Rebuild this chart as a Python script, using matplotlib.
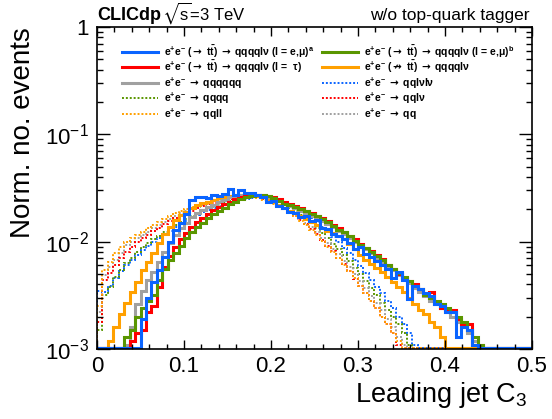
import numpy as np
import matplotlib
matplotlib.use('Agg')
import matplotlib.pyplot as plt
from matplotlib.lines import Line2D
from matplotlib.ticker import MultipleLocator, LogLocator, NullFormatter, FuncFormatter

plt.rcParams['font.family'] = ['Liberation Sans', 'DejaVu Sans']
plt.rcParams['mathtext.fontset'] = 'custom'
plt.rcParams['mathtext.rm'] = 'Liberation Sans'
plt.rcParams['mathtext.it'] = 'Liberation Sans:italic'
plt.rcParams['mathtext.bf'] = 'Liberation Sans:bold'
plt.rcParams['mathtext.sf'] = 'DejaVu Sans:bold'
plt.rcParams['mathtext.default'] = 'bf'
plt.rcParams['mathtext.fallback'] = 'stixsans'

# 80 bins of leading jet C3 between 0 and 0.5
n_bins = 80
c3_min, c3_max = 0.0, 0.5

# signal-like samples (solid lines)
tt_qqqqlv_emu_a = ([0.0] * 8 +
    [0.0019, 0.0030, 0.0042, 0.0055, 0.0072, 0.0100, 0.0129, 0.0148, 0.0180, 0.0245,
     0.0260, 0.0260, 0.0255, 0.0270, 0.0265, 0.0280, 0.0310, 0.0270, 0.0300, 0.0285,
     0.0285, 0.0270, 0.0260, 0.0235, 0.0240, 0.0215, 0.0205, 0.0190, 0.0185, 0.0170,
     0.0175, 0.0155, 0.0160, 0.0135, 0.0132, 0.0118, 0.0112, 0.0105, 0.0098, 0.0085,
     0.0089, 0.0076, 0.0072, 0.0066, 0.0061, 0.0056, 0.0046, 0.0052, 0.0044, 0.0029,
     0.0039, 0.0036, 0.0033, 0.0031, 0.0026, 0.0025, 0.0022, 0.0022, 0.0013, 0.0016,
     0.0015, 0.0011] + [0.0] * 10)

tt_qqqqlv_emu_b = ([0.0] * 5 +
    [0.0013, 0.0015, 0.0020, 0.0024, 0.0028, 0.0032, 0.0044, 0.0056, 0.0068, 0.0078,
     0.0092, 0.0108, 0.0122, 0.0136, 0.0150, 0.0165, 0.0180, 0.0194, 0.0208, 0.0222,
     0.0236, 0.0248, 0.0258, 0.0266, 0.0270, 0.0270, 0.0265, 0.0255, 0.0240, 0.0225,
     0.0218, 0.0210, 0.0203, 0.0192, 0.0182, 0.0173, 0.0162, 0.0152, 0.0140, 0.0129,
     0.0122, 0.0113, 0.0102, 0.0093, 0.0088, 0.0080, 0.0073, 0.0067, 0.0061, 0.0056,
     0.0051, 0.0047, 0.0043, 0.0039, 0.0036, 0.0032, 0.0030, 0.0028, 0.0026, 0.0024,
     0.0022, 0.0020, 0.0018, 0.0015, 0.0013, 0.0011] + [0.0] * 9)

tt_qqqqlv_tau = ([0.0] * 6 +
    [0.0012, 0.0014, 0.0015, 0.0022, 0.0025, 0.0038, 0.0058, 0.0073, 0.0089, 0.0105,
     0.0121, 0.0137, 0.0152, 0.0167, 0.0182, 0.0196, 0.0210, 0.0224, 0.0236, 0.0248,
     0.0258, 0.0265, 0.0270, 0.0272, 0.0270, 0.0266, 0.0260, 0.0248, 0.0235, 0.0225,
     0.0215, 0.0205, 0.0195, 0.0185, 0.0175, 0.0165, 0.0155, 0.0143, 0.0133, 0.0123,
     0.0113, 0.0105, 0.0096, 0.0088, 0.0081, 0.0075, 0.0069, 0.0061, 0.0056, 0.0050,
     0.0046, 0.0043, 0.0040, 0.0036, 0.0032, 0.0034, 0.0027, 0.0024, 0.0023, 0.0023,
     0.0019, 0.0017, 0.0017, 0.0011, 0.0011] + [0.0] * 9)

nontt_qqqqlv = ([0.0] * 2 +
    [0.0012, 0.0016, 0.0021, 0.0027, 0.0034, 0.0042, 0.0055, 0.0065, 0.0078, 0.0098,
     0.0118, 0.0138, 0.0158, 0.0176, 0.0190, 0.0205, 0.0218, 0.0228, 0.0232, 0.0245,
     0.0255, 0.0260, 0.0267, 0.0270, 0.0272, 0.0272, 0.0270, 0.0268, 0.0263, 0.0255,
     0.0235, 0.0220, 0.0205, 0.0195, 0.0183, 0.0172, 0.0163, 0.0152, 0.0143, 0.0135,
     0.0127, 0.0120, 0.0112, 0.0105, 0.0096, 0.0085, 0.0075, 0.0068, 0.0062, 0.0057,
     0.0052, 0.0047, 0.0042, 0.0038, 0.0034, 0.0030, 0.0026, 0.0023, 0.0021, 0.0018,
     0.0016, 0.0013] + [0.0] * 16)

qqqqqq = ([0.0] * 5 +
    [0.0011, 0.0016, 0.0026, 0.0035, 0.0044, 0.0052, 0.0065, 0.0080, 0.0097, 0.0115,
     0.0135, 0.0148, 0.0170, 0.0185, 0.0197, 0.0210, 0.0220, 0.0235, 0.0245, 0.0258,
     0.0265, 0.0270, 0.0272, 0.0272, 0.0270, 0.0265, 0.0260, 0.0250, 0.0237, 0.0225,
     0.0215, 0.0205, 0.0195, 0.0185, 0.0175, 0.0166, 0.0157, 0.0147, 0.0137, 0.0127,
     0.0118, 0.0109, 0.0100, 0.0092, 0.0085, 0.0078, 0.0071, 0.0065, 0.0059, 0.0054,
     0.0049, 0.0045, 0.0041, 0.0037, 0.0034, 0.0031, 0.0028, 0.0026, 0.0024, 0.0022,
     0.0020, 0.0018, 0.0016, 0.0014, 0.0012, 0.0010] + [0.0] * 9)

# background samples (dotted lines)
qqqq = ([0.0015, 0.0032, 0.0038, 0.0047, 0.0055, 0.0063, 0.0071, 0.0080, 0.0089, 0.0097,
         0.0105, 0.0114, 0.0123, 0.0133, 0.0143, 0.0153, 0.0163, 0.0173, 0.0183, 0.0193,
         0.0203, 0.0212, 0.0221, 0.0230, 0.0238, 0.0245, 0.0251, 0.0256, 0.0260, 0.0260,
         0.0256, 0.0250, 0.0242, 0.0232, 0.0220, 0.0207, 0.0193, 0.0179, 0.0164, 0.0149,
         0.0135, 0.0121, 0.0108, 0.0096, 0.0085, 0.0075, 0.0066, 0.0057, 0.0050, 0.0043,
         0.0037, 0.0032, 0.0027, 0.0023, 0.0020, 0.0017, 0.0014, 0.0011] + [0.0] * 22)

qqll = ([0.0025, 0.0055, 0.0064, 0.0078, 0.0089, 0.0100, 0.0108, 0.0116, 0.0124, 0.0133,
         0.0143, 0.0153, 0.0163, 0.0173, 0.0183, 0.0193, 0.0202, 0.0211, 0.0220, 0.0228,
         0.0236, 0.0243, 0.0249, 0.0254, 0.0258, 0.0261, 0.0262, 0.0261, 0.0258, 0.0253,
         0.0246, 0.0237, 0.0226, 0.0213, 0.0200, 0.0186, 0.0172, 0.0157, 0.0142, 0.0128,
         0.0115, 0.0102, 0.0090, 0.0080, 0.0070, 0.0061, 0.0053, 0.0046, 0.0039, 0.0033,
         0.0028, 0.0024, 0.0020, 0.0017, 0.0014, 0.0012] + [0.0] * 24)

qqlvlv = ([0.0035, 0.0034, 0.0039, 0.0046, 0.0053, 0.0061, 0.0068, 0.0075, 0.0084, 0.0092,
           0.0100, 0.0109, 0.0118, 0.0127, 0.0137, 0.0147, 0.0157, 0.0167, 0.0177, 0.0187,
           0.0197, 0.0206, 0.0215, 0.0224, 0.0232, 0.0240, 0.0247, 0.0252, 0.0256, 0.0259,
           0.0259, 0.0256, 0.0250, 0.0242, 0.0232, 0.0221, 0.0208, 0.0194, 0.0180, 0.0165,
           0.0151, 0.0137, 0.0124, 0.0111, 0.0099, 0.0088, 0.0078, 0.0068, 0.0059, 0.0051,
           0.0044, 0.0038, 0.0033, 0.0028, 0.0024, 0.0020, 0.0017, 0.0014, 0.0011] + [0.0] * 21)

qqlv = ([0.0018, 0.0044, 0.0051, 0.0060, 0.0071, 0.0080, 0.0089, 0.0100, 0.0108, 0.0116,
         0.0125, 0.0135, 0.0145, 0.0155, 0.0165, 0.0175, 0.0185, 0.0195, 0.0205, 0.0214,
         0.0223, 0.0231, 0.0239, 0.0246, 0.0252, 0.0257, 0.0261, 0.0263, 0.0262, 0.0258,
         0.0251, 0.0241, 0.0230, 0.0217, 0.0203, 0.0189, 0.0175, 0.0160, 0.0145, 0.0130,
         0.0117, 0.0104, 0.0092, 0.0081, 0.0071, 0.0062, 0.0053, 0.0045, 0.0039, 0.0033,
         0.0028, 0.0024, 0.0020, 0.0017, 0.0014, 0.0011] + [0.0] * 24)

qq = ([0.0022, 0.0049, 0.0058, 0.0067, 0.0078, 0.0093, 0.0100, 0.0108, 0.0116, 0.0124,
       0.0133, 0.0143, 0.0153, 0.0163, 0.0173, 0.0183, 0.0193, 0.0203, 0.0212, 0.0221,
       0.0229, 0.0237, 0.0244, 0.0250, 0.0255, 0.0259, 0.0262, 0.0263, 0.0262, 0.0258,
       0.0252, 0.0243, 0.0233, 0.0221, 0.0208, 0.0194, 0.0180, 0.0165, 0.0150, 0.0136,
       0.0122, 0.0109, 0.0097, 0.0086, 0.0076, 0.0066, 0.0058, 0.0050, 0.0043, 0.0037,
       0.0031, 0.0027, 0.0023, 0.0019, 0.0016, 0.0013, 0.0011] + [0.0] * 23)

BLUE = '#0a64ff'
GREEN = '#5a9600'
RED = '#ff0000'
ORANGE = '#ffa000'
GREY = '#a0a0a0'

EE = 'e$^{+}$e$^{-}$'
TT = r't$\bar{t}$'
ARR = r'$\mathsf{\rightarrow}$'
NARR = r'$\mathsf{\nrightarrow}$'
lab_emu_a = EE + ' (' + ARR + ' ' + TT + ') ' + ARR + ' qqqqlν (l = e,μ)$^{a}$'
lab_tau = EE + ' (' + ARR + ' ' + TT + ') ' + ARR + ' qqqqlν (l =  τ)'
lab_6q = EE + ' ' + ARR + ' qqqqqq'
lab_4q = EE + ' ' + ARR + ' qqqq'
lab_qqll = EE + ' ' + ARR + ' qqll'
lab_emu_b = EE + ' (' + ARR + ' ' + TT + ') ' + ARR + ' qqqqlν (l = e,μ)$^{b}$'
lab_nontt = EE + ' (' + NARR + ' ' + TT + ') ' + ARR + ' qqqqlν'
lab_qqlvlv = EE + ' ' + ARR + ' qqlνlν'
lab_qqlv = EE + ' ' + ARR + ' qqlν'
lab_qq = EE + ' ' + ARR + ' qq'

FLOOR = 1e-3

fig = plt.figure(figsize=(5.52, 4.19), dpi=100)
ax = fig.add_axes([97 / 552, 1 - 349 / 419, 435 / 552, 322 / 419])
edges = np.linspace(c3_min, c3_max, n_bins + 1)


def draw(vals, color, ls, lw):
    v = np.maximum(np.asarray(vals), FLOOR * 1.03)
    ax.stairs(v, edges, baseline=FLOOR, color=color, linestyle=ls, linewidth=lw)


dot = (0, (1, 1))
draw(qqlvlv, BLUE, dot, 1.4)
draw(qqqq, GREEN, dot, 1.4)
draw(qq, GREY, dot, 1.4)
draw(qqlv, RED, dot, 1.4)
draw(qqll, ORANGE, dot, 1.4)
draw(nontt_qqqqlv, ORANGE, '-', 2.2)
draw(qqqqqq, GREY, '-', 2.2)
draw(tt_qqqqlv_tau, RED, '-', 2.2)
draw(tt_qqqqlv_emu_b, GREEN, '-', 2.2)
draw(tt_qqqqlv_emu_a, BLUE, '-', 2.2)

ax.set_yscale('log')
ax.set_xlim(c3_min, c3_max)
ax.set_ylim(FLOOR, 1)

ax.xaxis.set_major_locator(MultipleLocator(0.1))
ax.xaxis.set_minor_locator(MultipleLocator(0.02))
ax.xaxis.set_major_formatter(FuncFormatter(lambda v, p: '0' if abs(v) < 1e-9 else f'{v:g}'))
ax.set_yticks([1e-3, 1e-2, 1e-1, 1])
ax.set_yticklabels([r'$\mathrm{10^{-3}}$', r'$\mathrm{10^{-2}}$', r'$\mathrm{10^{-1}}$', '1'])
ax.yaxis.set_minor_locator(LogLocator(base=10, subs=np.arange(2, 10)))
ax.yaxis.set_minor_formatter(NullFormatter())

ax.tick_params(which='both', direction='in', top=True, right=True, labelsize=16, width=1)
ax.tick_params(axis='x', which='major', length=6.5, pad=5)
ax.tick_params(axis='x', which='minor', length=3.5)
ax.tick_params(axis='y', which='major', length=9.5, pad=6)
ax.tick_params(axis='y', which='minor', length=4.5)
for s in ax.spines.values():
    s.set_linewidth(1.2)

ax.set_ylabel('Norm. no. events', fontsize=20, loc='top', labelpad=6)
fig.text(527 / 552, 1 - 402 / 419, r'Leading jet C$\mathrm{_{3}}$', fontsize=19.5,
         ha='right', va='baseline')

fig.text(97 / 552, 1 - 20 / 419, 'CLICdp', fontsize=13, weight='bold', va='baseline')
fig.text(246 / 552, 1 - 20 / 419, r'$\sqrt{\mathrm{s}}$=3 TeV', fontsize=12, ha='right',
         va='baseline')
fig.text(530 / 552, 1 - 20 / 419, 'w/o top-quark tagger', fontsize=12.5,
         ha='right', va='baseline')

# legend, drawn by hand in two columns of five rows
left_col = [(lab_emu_a, BLUE, '-'), (lab_tau, RED, '-'), (lab_6q, GREY, '-'),
            (lab_4q, GREEN, dot), (lab_qqll, ORANGE, dot)]
right_col = [(lab_emu_b, GREEN, '-'), (lab_nontt, ORANGE, '-'), (lab_qqlvlv, BLUE, dot),
             (lab_qqlv, RED, dot), (lab_qq, GREY, dot)]
W, H = 552.0, 419.0
row_y = [52, 67.5, 83, 98.5, 114]
for x0, col in [(122, left_col), (322, right_col)]:
    for y, (lab, color, ls) in zip(row_y, col):
        lw = 2.2 if ls == '-' else 1.4
        fig.add_artist(Line2D([x0 / W, (x0 + 36) / W], [1 - y / H, 1 - y / H],
                              color=color, linestyle=ls, linewidth=lw,
                              transform=fig.transFigure))
        fig.text((x0 + 42) / W, 1 - (y + 3.5) / H, lab, fontsize=7.5, weight='bold',
                 va='baseline')

fig.savefig('out.png', dpi=100)
